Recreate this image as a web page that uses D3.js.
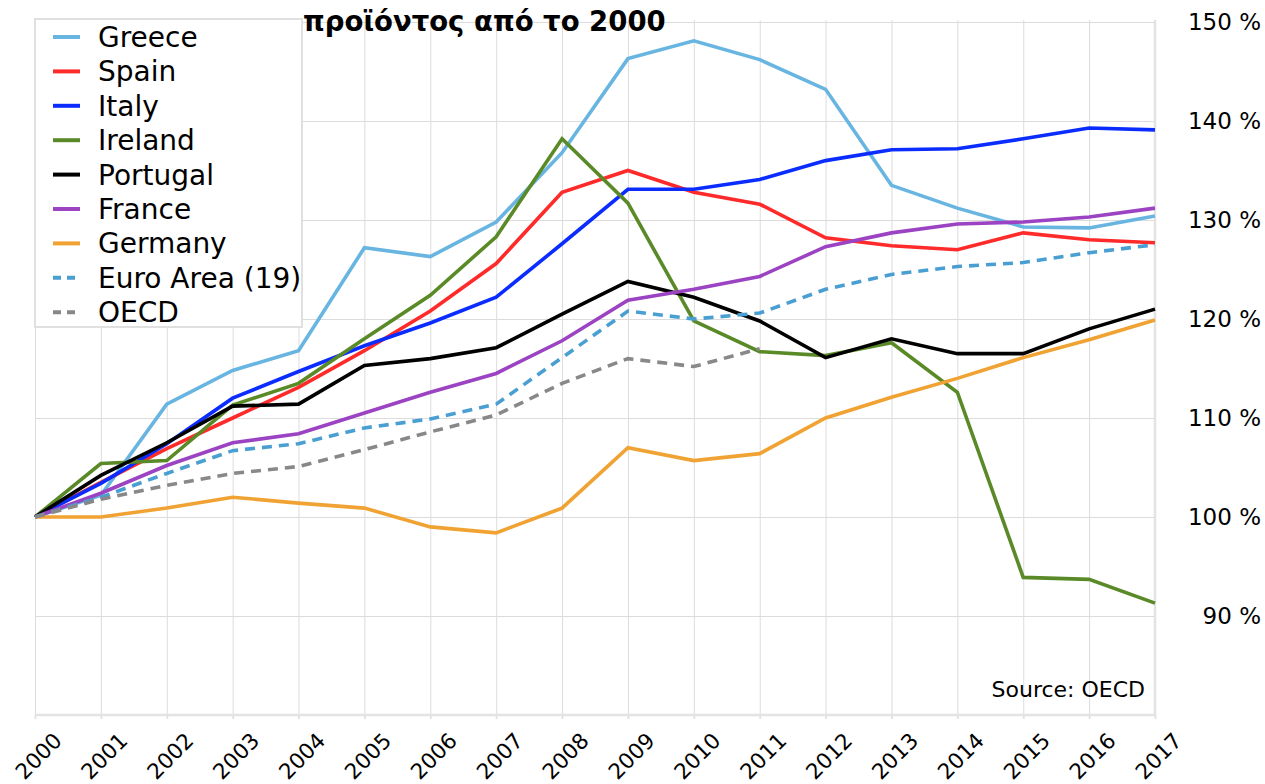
<!DOCTYPE html>
<html>
<head>
<meta charset="utf-8">
<script src="https://cdn.jsdelivr.net/npm/d3@7"></script>
<style>
  body { margin: 0; background: #fff; }
  svg { display: block; font-family: "DejaVu Sans", sans-serif; }
</style>
</head>
<body>
<div class="chart"></div>
<script>
var years = [2000, 2001, 2002, 2003, 2004, 2005, 2006, 2007, 2008, 2009, 2010, 2011, 2012, 2013, 2014, 2015, 2016, 2017];

var greece   = [100, 102.2, 111.4, 114.8, 116.8, 127.2, 126.3, 129.8, 136.8, 146.3, 148.1, 146.2, 143.2, 133.5, 131.2, 129.3, 129.2, 130.4];
var spain    = [100, 103.5, 106.9, 110.0, 113.1, 116.8, 120.8, 125.6, 132.8, 135.0, 132.8, 131.6, 128.2, 127.4, 127.0, 128.7, 128.0, 127.7];
var italy    = [100, 103.4, 107.4, 112.0, 114.7, 117.3, 119.6, 122.2, 127.6, 133.1, 133.1, 134.1, 136.0, 137.1, 137.2, 138.2, 139.3, 139.1];
var ireland  = [100, 105.4, 105.7, 111.3, 113.5, 118.0, 122.4, 128.3, 138.2, 131.7, 119.8, 116.7, 116.3, 117.6, 112.6, 93.9, 93.7, 91.3];
var portugal = [100, 104.2, 107.5, 111.2, 111.4, 115.3, 116.0, 117.1, 120.5, 123.8, 122.2, 119.8, 116.1, 118.0, 116.5, 116.5, 119.0, 121.0];
var france   = [100, 102.4, 105.2, 107.5, 108.4, 110.5, 112.6, 114.5, 117.8, 121.9, 123.0, 124.3, 127.3, 128.7, 129.6, 129.8, 130.3, 131.2];
var germany  = [100, 100.0, 100.9, 102.0, 101.4, 100.9, 99.0, 98.4, 100.9, 107.0, 105.7, 106.4, 110.0, 112.1, 114.0, 116.1, 117.9, 119.9];
var euroArea = [100, 102.0, 104.4, 106.7, 107.4, 109.0, 109.9, 111.4, 116.1, 120.8, 120.0, 120.6, 123.0, 124.5, 125.3, 125.7, 126.7, 127.5];
var oecd     = [100, 101.8, 103.2, 104.4, 105.1, 106.8, 108.6, 110.3, 113.5, 116.0, 115.2, 117.0];

var yTicks = [90, 100, 110, 120, 130, 140, 150];

var series = [
  { name: "Greece", values: greece, color: "#67b5e0", dash: null },
  { name: "Spain", values: spain, color: "#ff2a2a", dash: null },
  { name: "Italy", values: italy, color: "#0a2cff", dash: null },
  { name: "Ireland", values: ireland, color: "#5a8a28", dash: null },
  { name: "Portugal", values: portugal, color: "#000000", dash: null },
  { name: "France", values: france, color: "#9b43c2", dash: null },
  { name: "Germany", values: germany, color: "#f0a232", dash: null },
  { name: "Euro Area (19)", values: euroArea, color: "#4a9fd2", dash: "10,7" },
  { name: "OECD", values: oecd, color: "#888888", dash: "10,7" }
];

var W = 1265, H = 784;
var plotL = 35, plotR = 1155, plotT = 22, plotB = 715;

var svg = d3.select(".chart").append("svg")
  .attr("width", W)
  .attr("height", H);

var x = d3.scaleLinear().domain([2000, 2017]).range([plotL, plotR]);
var y = d3.scaleLinear().domain([80, 150]).range([plotB, plotT]);

// grid
svg.append("g")
  .attr("transform", "translate(0," + plotB + ")")
  .call(d3.axisBottom(x).tickValues(years).tickSize(-(plotB - plotT + 2)).tickFormat(""))
  .call(function(g) {
    g.select(".domain").remove();
    g.selectAll("line").attr("stroke", "#dcdcdc").attr("stroke-width", 1);
  });

svg.append("g")
  .attr("transform", "translate(" + plotL + ",0)")
  .call(d3.axisLeft(y).tickValues(yTicks).tickSize(-(plotR - plotL)).tickFormat(""))
  .call(function(g) {
    g.select(".domain").remove();
    g.selectAll("line").attr("stroke", "#dcdcdc").attr("stroke-width", 1);
  });

// frame (bottom + right)
svg.append("line")
  .attr("x1", plotL).attr("x2", plotR + 1)
  .attr("y1", plotB).attr("y2", plotB)
  .attr("stroke", "#e3e3e3").attr("stroke-width", 2.5);
svg.append("line")
  .attr("x1", plotR).attr("x2", plotR)
  .attr("y1", plotT - 2).attr("y2", plotB)
  .attr("stroke", "#e3e3e3").attr("stroke-width", 2.5);

// x axis ticks + labels
var xAxis = svg.append("g")
  .attr("transform", "translate(0," + plotB + ")")
  .call(d3.axisBottom(x).tickValues(years).tickSize(4).tickFormat(d3.format("d")));
xAxis.select(".domain").remove();
xAxis.selectAll("line").attr("stroke", "#e3e3e3").attr("stroke-width", 2);
xAxis.selectAll("text")
  .attr("font-family", "DejaVu Sans, sans-serif")
  .attr("font-size", 21.5)
  .attr("fill", "#000")
  .attr("text-anchor", "middle")
  .attr("dy", null)
  .attr("y", null)
  .attr("dominant-baseline", "central")
  .attr("transform", "translate(3,41) rotate(-45)");

// y axis on the right
var yAxis = svg.append("g")
  .attr("transform", "translate(" + plotR + ",0)")
  .call(d3.axisRight(y).tickValues(yTicks).tickSize(0).tickFormat(function(d) { return d + " %"; }));
yAxis.select(".domain").remove();
yAxis.selectAll("text")
  .attr("font-family", "DejaVu Sans, sans-serif")
  .attr("font-size", 23)
  .attr("fill", "#000")
  .attr("text-anchor", "end")
  .attr("x", 106);

// lines
var line = d3.line()
  .x(function(d, i) { return x(years[i]); })
  .y(function(d) { return y(d); });

svg.append("g").selectAll("path")
  .data(series)
  .enter()
  .append("path")
  .attr("d", function(d) { return line(d.values); })
  .attr("fill", "none")
  .attr("stroke", function(d) { return d.color; })
  .attr("stroke-width", 3.6)
  .attr("stroke-dasharray", function(d) { return d.dash; });

// source note
svg.append("text")
  .attr("x", 1145)
  .attr("y", 697)
  .attr("text-anchor", "end")
  .attr("font-size", 22)
  .attr("fill", "#000")
  .text("Source: OECD");

// title (only its second line is visible next to the legend)
svg.append("text")
  .attr("x", 303)
  .attr("y", 31)
  .attr("font-family", "DejaVu Sans, sans-serif")
  .attr("font-weight", "bold")
  .attr("font-size", 27.5)
  .attr("fill", "#000")
  .text("προϊόντος από το 2000");

// legend
var legend = svg.append("g");
legend.append("rect")
  .attr("x", 35).attr("y", 19)
  .attr("width", 267).attr("height", 308)
  .attr("fill", "#fff")
  .attr("stroke", "#e0e0e0")
  .attr("stroke-width", 2);

var item = legend.selectAll(".item")
  .data(series)
  .enter()
  .append("g")
  .attr("transform", function(d, i) {
    return "translate(0," + (37 + i * 34.4) + ")";
  });

item.append("line")
  .attr("x1", 53).attr("x2", 80)
  .attr("y1", 0).attr("y2", 0)
  .attr("stroke", function(d) { return d.color; })
  .attr("stroke-width", 4)
  .attr("stroke-dasharray", function(d) { return d.dash ? "8,6" : null; });

item.append("text")
  .attr("x", 98)
  .attr("y", 0)
  .attr("dy", "0.36em")
  .attr("font-size", 28)
  .attr("fill", "#000")
  .text(function(d) { return d.name; });
</script>
</body>
</html>
